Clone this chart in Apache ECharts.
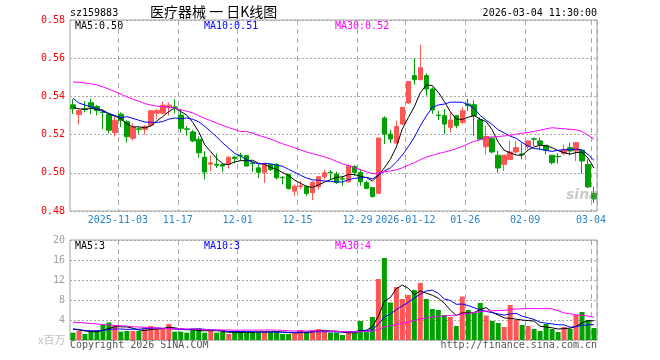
<!DOCTYPE html>
<html>
<head>
<meta charset="utf-8">
<script src="https://cdn.jsdelivr.net/npm/echarts@6/dist/echarts.min.js"></script>
<style>html,body{margin:0;padding:0;background:#fff}#c{width:660px;height:360px}</style>
</head>
<body>
<div id="c"></div>
<script>
// ---- data ----
const dates = ['2025-10-22','2025-10-23','2025-10-24','2025-10-27','2025-10-28','2025-10-29','2025-10-30','2025-10-31',
'2025-11-03','2025-11-04','2025-11-05','2025-11-06','2025-11-07','2025-11-10','2025-11-11','2025-11-12','2025-11-13','2025-11-14',
'2025-11-17','2025-11-18','2025-11-19','2025-11-20','2025-11-21','2025-11-24','2025-11-25','2025-11-26','2025-11-27','2025-11-28',
'2025-12-01','2025-12-02','2025-12-03','2025-12-04','2025-12-05','2025-12-08','2025-12-09','2025-12-10','2025-12-11','2025-12-12',
'2025-12-15','2025-12-16','2025-12-17','2025-12-18','2025-12-19','2025-12-22','2025-12-23','2025-12-24','2025-12-25','2025-12-26',
'2025-12-29','2025-12-30','2025-12-31','2026-01-05','2026-01-06','2026-01-07','2026-01-08','2026-01-09',
'2026-01-12','2026-01-13','2026-01-14','2026-01-15','2026-01-16','2026-01-19','2026-01-20','2026-01-21','2026-01-22','2026-01-23',
'2026-01-26','2026-01-27','2026-01-28','2026-01-29','2026-01-30','2026-02-02','2026-02-03','2026-02-04','2026-02-05','2026-02-06',
'2026-02-09','2026-02-10','2026-02-11','2026-02-12','2026-02-13','2026-02-24','2026-02-25','2026-02-26','2026-02-27',
'2026-03-02','2026-03-03','2026-03-04'];

const opens = [.5356,.5305,.5335,.5367,.5347,.5318,.5307,.5210,.5307,.5267,.5181,.5230,.5228,.5249,.5312,.5312,.5342,.5345,
.5302,.5230,.5214,.5175,.5082,.5045,.5045,.5043,.5045,.5082,.5092,.5090,.5052,.5026,.5003,.5043,.5043,.4976,.4991,.4904,
.4928,.4927,.4896,.4927,.4979,.5003,.4993,.4969,.4953,.5033,.5002,.4949,.4923,.4893,.5287,.5203,.5156,.5255,.5366,.5509,
.5488,.5509,.5439,.5302,.5299,.5238,.5299,.5264,.5360,.5356,.5278,.5137,.5181,.5092,.5044,.5070,.5109,.5099,.5137,.5178,
.5167,.5144,.5092,.5086,.5102,.5132,.5114,.5118,.5044,.4891];
const closes = [.5335,.5326,.5331,.5344,.5326,.5316,.5223,.5275,.5275,.5189,.5240,.5228,.5242,.5325,.5325,.5354,.5354,.5340,
.5233,.5228,.5167,.5105,.5004,.5052,.5040,.5035,.5082,.5075,.5088,.5035,.5049,.5003,.5043,.5017,.4974,.4974,.4917,.4930,
.4932,.4892,.4951,.4979,.5000,.5000,.4949,.4967,.5037,.5002,.4953,.4918,.4876,.5182,.5203,.5177,.5243,.5343,.5478,.5488,
.5550,.5439,.5329,.5299,.5255,.5276,.5247,.5325,.5352,.5299,.5176,.5190,.5109,.5025,.5092,.5109,.5132,.5097,.5167,.5176,
.5148,.5118,.5053,.5084,.5123,.5114,.5158,.5062,.4926,.4863];
const highs = [.5385,.5330,.5375,.5388,.5355,.5325,.5316,.5295,.5316,.5275,.5258,.5240,.5250,.5325,.5335,.5372,.5368,.5384,
.5335,.5245,.5225,.5190,.5113,.5090,.5100,.5048,.5085,.5090,.5105,.5092,.5060,.5043,.5052,.5043,.5052,.4983,.4996,.4939,
.4957,.4935,.4957,.4983,.5017,.5014,.5005,.4984,.5045,.5040,.5019,.4958,.4923,.5182,.5296,.5226,.5273,.5343,.5478,.5600,
.5670,.5521,.5448,.5325,.5334,.5316,.5303,.5343,.5386,.5379,.5290,.5246,.5185,.5115,.5092,.5167,.5167,.5155,.5167,.5185,
.5185,.5144,.5092,.5102,.5148,.5158,.5158,.5123,.5070,.4926];
const lows = [.5308,.5252,.5317,.5308,.5300,.5228,.5205,.5190,.5240,.5158,.5170,.5205,.5200,.5240,.5280,.5305,.5300,.5310,
.5210,.5195,.5160,.5080,.4965,.5010,.5026,.5005,.5022,.5050,.5065,.5035,.5005,.4974,.4948,.5009,.4965,.4939,.4913,.4878,
.4913,.4878,.4857,.4913,.4965,.4965,.4942,.4932,.4949,.4984,.4932,.4914,.4870,.4888,.5151,.5156,.5156,.5250,.5361,.5462,
.5483,.5404,.5308,.5276,.5203,.5210,.5233,.5255,.5324,.5194,.5172,.5097,.5102,.5000,.5009,.5067,.5097,.5070,.5123,.5141,
.5120,.5097,.5044,.5049,.5092,.5092,.5062,.4996,.4921,.4842];
// volume, millions
const volumes = [1.47,1.8,1.2,1.8,1.9,3.1,3.5,3.0,1.67,1.8,1.8,1.8,2.3,2.8,2.3,2.2,3.2,1.67,1.67,1.47,2.3,2.3,1.47,1.8,1.47,
1.67,1.2,1.67,1.67,1.47,1.67,1.67,1.67,1.67,1.67,1.2,1.2,1.33,2.0,1.67,2.0,2.2,1.67,1.47,1.47,1.0,1.67,1.47,3.8,1.8,4.6,
12.2,16.4,7.5,10.6,8.2,9.0,10.0,11.4,8.2,6.2,6.0,5.0,4.6,2.8,8.7,6.0,5.5,7.4,4.9,3.8,3.4,2.6,7.0,4.0,3.0,2.8,2.2,1.8,3.2,
2.2,1.6,2.6,2.2,5.0,5.6,4.0,2.4];
// moving-average values before the window has enough days
const ma5Head = [.5342,.5335,.5332,.5337];
const ma10Head = [.5390,.5365,.5355,.5345,.5335,.5322,.5310,.5300,.5288];
const ma30Head = [.5476,.5474,.5470,.5466,.5460,.5450,.5438,.5425,.5412,.5398,.5386,.5374,.5362,.5355,.5349,.5346,.5343,
.5339,.5330,.5322,.5314,.5298,.5285,.5273,.5260,.5248,.5237,.5226,.5216];
const volMa5Head = [2.2,2.0,1.8,1.7];
const volMa10Head = [2.2,2.1,1.9,1.85,1.85,1.9,2.1,2.2,2.2];
const volMa30Head = [3.55,3.5,3.4,3.3,3.2,3.1,3.0,2.9,2.85,2.75,2.65,2.6,2.5,2.45,2.4,2.35,2.3,2.3,2.25,2.2,2.2,2.15,2.1,
2.05,2.0,2.0,2.0,1.98,1.97];
// x tick labels
const tickDates = ['2025-11-03','2025-11-17','2025-12-01','2025-12-15','2025-12-29','2026-01-12','2026-01-26','2026-02-09','2026-03-04'];
const tickLabels = ['2025-11-03','11-17','12-01','12-15','12-29','2026-01-12','01-26','02-09','03-04'];
const priceTicks = [0.48, 0.50, 0.52, 0.54, 0.56, 0.58];
const volTicks = [0, 4, 8, 12, 16, 20];

// ---- build ----
function movingAvg(vals, n, head) {
  return vals.map((v, i) => {
    if (i < n - 1) return head[i];
    let s = 0;
    for (let k = i - n + 1; k <= i; k++) s += vals[k];
    return +(s / n).toFixed(4);
  });
}
const UP = '#ff5555', DOWN = '#00a000';
const kData = dates.map((d, i) => [opens[i], closes[i], lows[i], highs[i]]);
const volData = volumes.map((v, i) => ({ value: v, itemStyle: { color: closes[i] > opens[i] ? UP : (closes[i] < opens[i] ? DOWN : (i > 0 && closes[i] >= closes[i-1] ? UP : DOWN)) } }));
const tickSet = new Set(tickDates);
const showTick = (idx, val) => tickSet.has(val);
const MONO = '"DejaVu Sans Mono", "Liberation Mono", monospace';
const GRIDC = '#a8a8a8';

const chart = echarts.init(document.getElementById('c'), null, { renderer: 'canvas' });
const xBase = {
  type: 'category', data: dates, boundaryGap: true,
  axisLine: { show: false }, axisTick: { show: false },
  splitLine: { show: true, interval: showTick, lineStyle: { color: GRIDC, type: [5, 4], width: 1 } }
};
chart.setOption({
  animation: false,
  backgroundColor: '#ffffff',
  grid: [
    { left: 70, top: 20, width: 527, height: 191, show: true, borderColor: '#a0a0a0', borderWidth: 1 },
    { left: 70, top: 240, width: 527, height: 100, show: true, borderColor: '#a0a0a0', borderWidth: 1 }
  ],
  xAxis: [
    Object.assign({}, xBase, { gridIndex: 0,
      axisLabel: { show: true, interval: showTick, color: '#2b86d0', fontFamily: MONO, fontSize: 10, margin: 4,
        padding: [0, 6, 0, 0],
        formatter: v => tickLabels[tickDates.indexOf(v)] } }),
    Object.assign({}, xBase, { gridIndex: 1, axisLabel: { show: false } })
  ],
  yAxis: [
    { type: 'value', gridIndex: 0, min: priceTicks[0], max: priceTicks[priceTicks.length - 1], interval: 0.02, scale: true,
      axisLine: { show: false }, axisTick: { show: false },
      axisLabel: { color: '#ff0000', fontFamily: MONO, fontSize: 10, margin: 5, formatter: v => v.toFixed(2) },
      splitLine: { show: true, lineStyle: { color: GRIDC, type: [2, 2] } } },
    { type: 'value', gridIndex: 1, min: volTicks[0], max: volTicks[volTicks.length - 1], interval: 4,
      axisLine: { show: false }, axisTick: { show: false },
      axisLabel: { color: '#a0a0a0', fontFamily: MONO, fontSize: 10, margin: 5, formatter: v => v === 0 ? '' : String(v) },
      splitLine: { show: true, lineStyle: { color: GRIDC, type: [2, 2] } } }
  ],
  series: [
    { type: 'candlestick', xAxisIndex: 0, yAxisIndex: 0, data: kData, barWidth: 5,
      itemStyle: { color: UP, color0: DOWN, borderColor: UP, borderColor0: DOWN, borderWidth: 1 } },
    { type: 'line', xAxisIndex: 0, yAxisIndex: 0, data: movingAvg(closes, 5, ma5Head), showSymbol: false, symbol: 'none',
      lineStyle: { color: '#000000', width: 1 }, z: 3 },
    { type: 'line', xAxisIndex: 0, yAxisIndex: 0, data: movingAvg(closes, 10, ma10Head), showSymbol: false, symbol: 'none',
      lineStyle: { color: '#0000ff', width: 1 }, z: 3 },
    { type: 'line', xAxisIndex: 0, yAxisIndex: 0, data: movingAvg(closes, 30, ma30Head), showSymbol: false, symbol: 'none',
      lineStyle: { color: '#ff00ff', width: 1 }, z: 3 },
    { type: 'bar', xAxisIndex: 1, yAxisIndex: 1, data: volData, barWidth: 5 },
    { type: 'line', xAxisIndex: 1, yAxisIndex: 1, data: movingAvg(volumes, 5, volMa5Head), showSymbol: false, symbol: 'none',
      lineStyle: { color: '#000000', width: 1 }, z: 3 },
    { type: 'line', xAxisIndex: 1, yAxisIndex: 1, data: movingAvg(volumes, 10, volMa10Head), showSymbol: false, symbol: 'none',
      lineStyle: { color: '#0000ff', width: 1 }, z: 3 },
    { type: 'line', xAxisIndex: 1, yAxisIndex: 1, data: movingAvg(volumes, 30, volMa30Head), showSymbol: false, symbol: 'none',
      lineStyle: { color: '#ff00ff', width: 1 }, z: 3 }
  ],
  graphic: [
    { type: 'text', left: 70, top: 8, style: { text: 'sz159883', font: '10px ' + MONO, fill: '#000' } },
    { type: 'text', left: 150, top: 5, style: { text: '医疗器械 一 日K线图', font: '14px "Noto Sans CJK SC"', fill: '#000' } },
    { type: 'text', right: 63, top: 8, style: { text: '2026-03-04 11:30:00', font: '10px ' + MONO, fill: '#000' } },
    { type: 'text', left: 75, top: 21, style: { text: 'MA5:0.50', font: '10px ' + MONO, fill: '#000' }, z: 10 },
    { type: 'text', left: 204, top: 21, style: { text: 'MA10:0.51', font: '10px ' + MONO, fill: '#0000ff' }, z: 10 },
    { type: 'text', left: 335, top: 21, style: { text: 'MA30:0.52', font: '10px ' + MONO, fill: '#ff00ff' }, z: 10 },
    { type: 'text', left: 75, top: 241, style: { text: 'MA5:3', font: '10px ' + MONO, fill: '#000' }, z: 10 },
    { type: 'text', left: 204, top: 241, style: { text: 'MA10:3', font: '10px ' + MONO, fill: '#0000ff' }, z: 10 },
    { type: 'text', left: 335, top: 241, style: { text: 'MA30:4', font: '10px ' + MONO, fill: '#ff00ff' }, z: 10 },
    { type: 'text', left: 38, top: 334, style: { text: 'x百万', font: '11px "Noto Sans CJK SC"', fill: '#c0c0c0' } },
    { type: 'text', left: 70, top: 340, style: { text: 'Copyright 2026 SINA.COM', font: '10px ' + MONO, fill: '#555' } },
    { type: 'text', right: 63, top: 340, style: { text: 'http://finance.sina.com.cn', font: '10px ' + MONO, fill: '#555' } },
    { type: 'text', left: 566, top: 188, style: { text: 'sina', font: 'italic bold 14px "DejaVu Sans"', fill: 'rgba(150,150,150,0.5)' }, z: 10 }
  ]
});
</script>
</body>
</html>
